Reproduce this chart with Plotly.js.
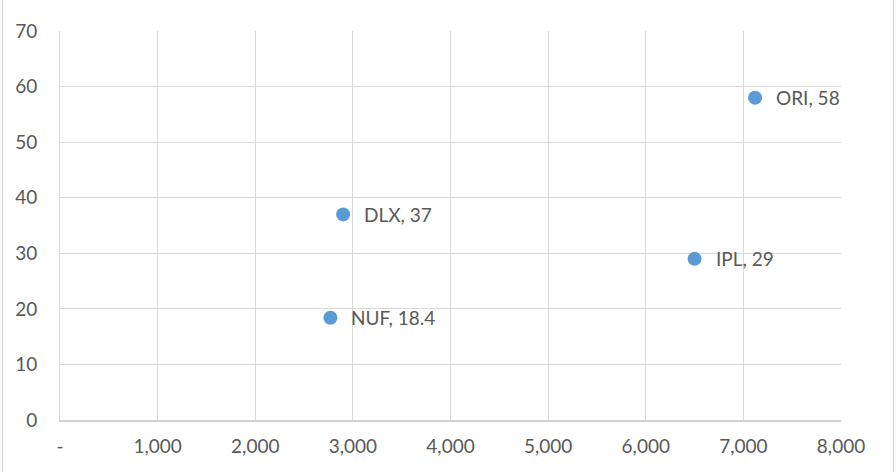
<!DOCTYPE html>
<html>
<head>
<meta charset="utf-8">
<script src="https://cdn.plot.ly/plotly-3.0.1.min.js"></script>
<style>
  html, body { margin: 0; padding: 0; background: #fff; }
  #frame { position: absolute; left: 2px; top: 0; width: 890px; height: 472px;
           border-left: 1.5px solid #d0d0d0; border-right: 1.5px solid #d0d0d0; }
  #chart { position: absolute; left: 0; top: 0; width: 896px; height: 472px; }
</style>
</head>
<body>
<div id="frame"></div>
<div id="chart"></div>
<script>
// Companies plotted by x-value against y-value
const companies = ["ORI", "IPL", "DLX", "NUF"];
const xValues = [7120, 6500, 2900, 2770];
const yValues = [58, 29, 37, 18.4];

const xTickVals = [0, 1000, 2000, 3000, 4000, 5000, 6000, 7000, 8000];
const xTickText = ["-", "1,000", "2,000", "3,000", "4,000", "5,000", "6,000", "7,000", "8,000"];
const yTickVals = [0, 10, 20, 30, 40, 50, 60, 70];

const FONT = "Lato, 'Open Sans', sans-serif";
const TEXT_COLOR = "#595959";

const trace = {
  type: "scatter",
  mode: "markers",
  x: xValues,
  y: yValues,
  marker: { size: 14, color: "#5B9BD5" },
  cliponaxis: false,
  hoverinfo: "skip"
};

// Data labels "NAME, value" to the right of each point
const annotations = companies.map((c, i) => ({
  x: xValues[i],
  y: yValues[i],
  xref: "x",
  yref: "y",
  text: c + ", " + yValues[i],
  showarrow: false,
  xanchor: "left",
  yanchor: "middle",
  xshift: 19,
  font: { family: FONT, size: 19, color: TEXT_COLOR }
}));

const axisFont = { family: FONT, size: 19, color: TEXT_COLOR };

const layout = {
  width: 896,
  height: 472,
  margin: { l: 60, r: 55, t: 31, b: 52 },
  paper_bgcolor: "rgba(0,0,0,0)",
  plot_bgcolor: "#ffffff",
  showlegend: false,
  annotations: annotations,
  xaxis: {
    range: [0, 8000],
    tickvals: xTickVals,
    ticktext: xTickText,
    showgrid: true,
    gridcolor: "#d9d9d9",
    gridwidth: 1,
    zeroline: false,
    showline: true,
    linecolor: "#d0d0d0",
    linewidth: 1.5,
    ticks: "",
    ticklabelstandoff: 9,
    tickfont: axisFont,
    fixedrange: true
  },
  yaxis: {
    range: [0, 70],
    tickvals: yTickVals,
    showgrid: true,
    gridcolor: "#d9d9d9",
    gridwidth: 1,
    zeroline: false,
    showline: true,
    linecolor: "#d9d9d9",
    linewidth: 1,
    ticks: "",
    ticklabelstandoff: 18,
    tickfont: axisFont,
    fixedrange: true
  }
};

Plotly.newPlot("chart", [trace], layout, { displayModeBar: false, staticPlot: true });
</script>
</body>
</html>
